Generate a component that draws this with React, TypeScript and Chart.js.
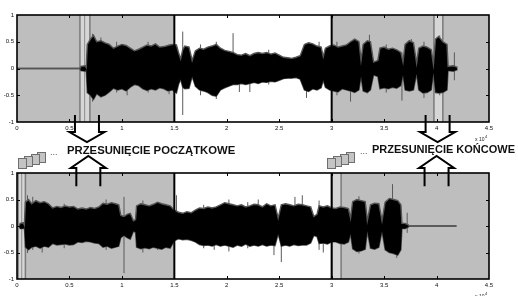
import React, { useEffect, useRef } from "react";
import { Chart, registerables } from "chart.js";
Chart.register(...registerables);

// ---- axis definition ----
const X_MIN = 0;
const X_MAX = 4.5;
const X_STEP = 0.5;
const Y_MIN = -1;
const Y_MAX = 1;
const Y_STEP = 0.5;

// ---- top waveform (original signal), x in units of 10^4 samples ----
const TOP_X = [0, 0.60, 0.61, 0.65, 0.66, 0.67, 0.70, 0.73, 0.76, 0.80,
  0.84, 0.88, 0.92, 0.96, 1.00, 1.04, 1.08, 1.12, 1.16, 1.20,
  1.24, 1.28, 1.32, 1.36, 1.40, 1.44, 1.48, 1.52, 1.54, 1.56,
  1.58, 1.60, 1.64, 1.67, 1.70, 1.74, 1.78, 1.82, 1.86, 1.90,
  1.94, 1.98, 2.02, 2.06, 2.10, 2.14, 2.18, 2.22, 2.26, 2.30,
  2.34, 2.38, 2.42, 2.46, 2.50, 2.54, 2.58, 2.62, 2.66, 2.70,
  2.74, 2.78, 2.82, 2.86, 2.90, 2.92, 2.94, 2.98, 3.02, 3.06,
  3.10, 3.14, 3.18, 3.22, 3.26, 3.28, 3.30, 3.34, 3.37, 3.40,
  3.44, 3.46, 3.50, 3.54, 3.58, 3.62, 3.66, 3.68, 3.70, 3.74,
  3.78, 3.81, 3.83, 3.87, 3.91, 3.95, 3.97, 3.99, 4.02, 4.06,
  4.10, 4.11, 4.16, 4.20];
const TOP_UPPER = [0, 0, 0.04, 0.05, 0.02, 0.45, 0.55, 0.62, 0.50, 0.52,
  0.48, 0.45, 0.38, 0.42, 0.45, 0.43, 0.38, 0.33, 0.36, 0.40,
  0.44, 0.42, 0.46, 0.40, 0.41, 0.43, 0.45, 0.44, 0.30, 0.18,
  0.35, 0.42, 0.40, 0.15, 0.33, 0.38, 0.36, 0.40, 0.42, 0.45,
  0.38, 0.34, 0.32, 0.30, 0.26, 0.25, 0.28, 0.24, 0.28, 0.30,
  0.28, 0.30, 0.27, 0.29, 0.25, 0.21, 0.20, 0.19, 0.21, 0.24,
  0.45, 0.48, 0.46, 0.42, 0.40, 0.22, 0.38, 0.42, 0.44, 0.40,
  0.42, 0.44, 0.50, 0.55, 0.50, 0.15, 0.45, 0.52, 0.50, 0.12,
  0.15, 0.38, 0.40, 0.36, 0.38, 0.35, 0.30, 0.12, 0.45, 0.52,
  0.48, 0.10, 0.38, 0.42, 0.40, 0.35, 0.08, 0.55, 0.60, 0.50,
  0.45, 0.04, 0.05, 0.02];
const TOP_LOWER = [0, 0, -0.04, -0.05, -0.02, -0.45, -0.50, -0.58, -0.47, -0.53,
  -0.50, -0.44, -0.37, -0.40, -0.38, -0.42, -0.35, -0.30, -0.32, -0.38,
  -0.41, -0.38, -0.40, -0.36, -0.38, -0.42, -0.40, -0.46, -0.30, -0.20,
  -0.35, -0.38, -0.37, -0.15, -0.33, -0.40, -0.42, -0.45, -0.50, -0.52,
  -0.40, -0.36, -0.33, -0.30, -0.30, -0.28, -0.30, -0.28, -0.26, -0.28,
  -0.25, -0.26, -0.24, -0.25, -0.22, -0.19, -0.18, -0.18, -0.17, -0.20,
  -0.40, -0.43, -0.38, -0.40, -0.36, -0.22, -0.35, -0.40, -0.42, -0.44,
  -0.38, -0.40, -0.42, -0.45, -0.40, -0.15, -0.42, -0.45, -0.40, -0.12,
  -0.15, -0.38, -0.36, -0.38, -0.35, -0.37, -0.32, -0.12, -0.40, -0.42,
  -0.40, -0.10, -0.40, -0.46, -0.45, -0.40, -0.08, -0.45, -0.46, -0.45,
  -0.40, -0.04, -0.05, -0.02];
const TOP_SPIKE_X = [0.72, 0.80, 0.95, 1.05, 1.25, 1.45, 1.58, 1.75, 1.90, 2.06, 2.12, 2.22, 2.40, 2.76, 2.88, 3.05, 3.18, 3.36, 3.52, 3.67, 3.76, 3.88, 4.03, 4.17];
const TOP_SPIKE_HI = [0.65, 0.58, 0.50, 0.40, 0.50, 0.45, 0.69, 0.45, 0.50, 0.66, 0.20, 0.20, 0.35, 0.40, 0.50, 0.50, 0.30, 0.63, 0.45, 0.30, 0.55, 0.50, 0.62, 0.30];
const TOP_SPIKE_LO = [-0.62, -0.40, -0.45, -0.50, -0.45, -0.48, -0.87, -0.50, -0.57, -0.28, -0.44, -0.44, -0.30, -0.55, -0.30, -0.50, -0.62, -0.30, -0.45, -0.60, -0.30, -0.55, -0.50, -0.22];

// ---- bottom waveform (shifted signal) ----
const BOT_X = [0.02, 0.03, 0.06, 0.07, 0.08, 0.11, 0.14, 0.18, 0.22, 0.26,
  0.30, 0.34, 0.38, 0.42, 0.46, 0.50, 0.54, 0.58, 0.62, 0.66,
  0.70, 0.74, 0.78, 0.82, 0.86, 0.90, 0.94, 0.97, 0.99, 1.02,
  1.05, 1.08, 1.11, 1.13, 1.14, 1.18, 1.22, 1.26, 1.30, 1.34,
  1.38, 1.42, 1.46, 1.50, 1.54, 1.58, 1.62, 1.66, 1.70, 1.74,
  1.78, 1.82, 1.86, 1.90, 1.94, 1.98, 2.02, 2.06, 2.10, 2.14,
  2.18, 2.22, 2.26, 2.30, 2.34, 2.38, 2.42, 2.46, 2.49, 2.52,
  2.56, 2.60, 2.64, 2.68, 2.72, 2.76, 2.80, 2.83, 2.86, 2.88,
  2.92, 2.96, 3.00, 3.04, 3.08, 3.12, 3.16, 3.18, 3.20, 3.24,
  3.28, 3.32, 3.34, 3.37, 3.41, 3.45, 3.48, 3.51, 3.55, 3.59,
  3.63, 3.66, 3.67, 3.70, 3.73, 3.74, 4.19];
const BOT_UPPER = [0, 0.05, 0.06, 0.02, 0.45, 0.50, 0.42, 0.48, 0.44, 0.46,
  0.42, 0.34, 0.37, 0.35, 0.38, 0.36, 0.37, 0.32, 0.34, 0.32,
  0.35, 0.33, 0.36, 0.43, 0.41, 0.44, 0.42, 0.40, 0.20, 0.18,
  0.22, 0.24, 0.10, 0.12, 0.38, 0.42, 0.40, 0.38, 0.41, 0.45,
  0.42, 0.40, 0.38, 0.30, 0.26, 0.24, 0.27, 0.25, 0.30, 0.34,
  0.33, 0.36, 0.34, 0.36, 0.40, 0.44, 0.42, 0.40, 0.38, 0.40,
  0.36, 0.38, 0.41, 0.40, 0.36, 0.42, 0.38, 0.40, 0.15, 0.40,
  0.42, 0.40, 0.38, 0.41, 0.40, 0.38, 0.36, 0.18, 0.22, 0.38,
  0.36, 0.38, 0.34, 0.33, 0.36, 0.35, 0.33, 0.15, 0.46, 0.50,
  0.48, 0.46, 0.10, 0.40, 0.43, 0.42, 0.10, 0.45, 0.52, 0.50,
  0.48, 0.40, 0.05, 0.05, 0.02, 0, 0];
const BOT_LOWER = [0, -0.05, -0.05, -0.02, -0.40, -0.45, -0.40, -0.38, -0.42, -0.38,
  -0.40, -0.33, -0.36, -0.35, -0.34, -0.36, -0.35, -0.30, -0.31, -0.29,
  -0.30, -0.32, -0.33, -0.40, -0.38, -0.42, -0.40, -0.38, -0.22, -0.18,
  -0.22, -0.25, -0.10, -0.12, -0.40, -0.43, -0.41, -0.43, -0.40, -0.42,
  -0.44, -0.40, -0.42, -0.28, -0.24, -0.26, -0.25, -0.27, -0.30, -0.35,
  -0.37, -0.36, -0.38, -0.35, -0.38, -0.36, -0.38, -0.40, -0.36, -0.38,
  -0.34, -0.38, -0.36, -0.38, -0.35, -0.38, -0.36, -0.37, -0.15, -0.38,
  -0.36, -0.38, -0.35, -0.37, -0.36, -0.36, -0.32, -0.18, -0.20, -0.33,
  -0.32, -0.34, -0.30, -0.30, -0.33, -0.34, -0.30, -0.15, -0.43, -0.48,
  -0.47, -0.44, -0.10, -0.42, -0.44, -0.40, -0.10, -0.45, -0.50, -0.52,
  -0.55, -0.45, -0.05, -0.05, -0.02, 0, 0];
const BOT_SPIKE_X = [0.10, 0.15, 0.24, 0.45, 0.85, 1.02, 1.20, 1.34, 1.52, 1.78, 1.88, 2.02, 2.20, 2.30, 2.45, 2.52, 2.65, 2.72, 2.88, 2.92, 3.26, 3.58, 3.62, 3.72];
const BOT_SPIKE_HI = [0.58, 0.55, 0.30, 0.42, 0.50, 0.55, 0.48, 0.45, 0.58, 0.40, 0.30, 0.50, 0.45, 0.50, 0.30, 0.30, 0.55, 0.58, 0.48, 0.30, 0.56, 0.79, 0.30, 0.25];
const BOT_SPIKE_LO = [-0.51, -0.45, -0.50, -0.42, -0.45, -0.89, -0.50, -0.45, -0.25, -0.42, -0.45, -0.48, -0.42, -0.30, -0.55, -0.68, -0.30, -0.30, -0.45, -0.50, -0.52, -0.30, -0.60, -0.13];

// ---- regions ----
const SHADED_SPANS = [[0, 1.5], [3, 4.5]];
const DIVIDERS = [1.5, 3];
const TOP_BANDS = [[0.60, 0.695, 0.645], [3.975, 4.06]];
const BOT_BANDS = [[0.01, 0.08, 0.045], [3.0, 3.09]];
const TOP_ARROWS = [0.667, 4.01];
const BOT_ARROWS = [0.68, 4.0];
const ICONS = [0.0095, 2.955];
const LABELS = ["PRZESUNIĘCIE POCZĄTKOWE", "PRZESUNIĘCIE KOŃCOWE"];

const FONT = '"Liberation Sans", Arial, Helvetica, sans-serif';

const fmtTick = (v: any) => String(parseFloat(Number(v).toFixed(2)));

function envelope(xs: number[], up: number[], lo: number[]) {
  return [
    {
      data: xs.map((x, i) => ({ x, y: up[i] })),
      borderColor: "#555",
      borderWidth: 1.4,
      backgroundColor: "#000",
      fill: "+1",
      pointRadius: 0,
      tension: 0,
    },
    {
      data: xs.map((x, i) => ({ x, y: lo[i] })),
      borderColor: "#555",
      borderWidth: 1.4,
      fill: false,
      pointRadius: 0,
      tension: 0,
    },
  ];
}

function spikes(xs: number[], hi: number[], lo: number[]) {
  const data: any[] = [];
  xs.forEach((x, i) => {
    data.push({ x, y: lo[i] }, { x, y: hi[i] }, { x, y: null });
  });
  return {
    data,
    borderColor: "#5a5a5a",
    borderWidth: 1,
    fill: false,
    pointRadius: 0,
    spanGaps: false,
  };
}

const decorPlugin = {
  id: "decor",
  beforeDatasetsDraw(chart: any, _a: any, o: any) {
    const { ctx, chartArea } = chart;
    const { top, bottom } = chartArea;
    const xs = chart.scales.x;
    ctx.save();
    ctx.fillStyle = "#bebebe";
    for (const [a, b] of o.spans) {
      const x0 = xs.getPixelForValue(a);
      const x1 = xs.getPixelForValue(b);
      ctx.fillRect(x0, top, x1 - x0, bottom - top);
    }
    for (const band of o.bands) {
      const x0 = xs.getPixelForValue(band[0]);
      const x1 = xs.getPixelForValue(band[1]);
      ctx.fillStyle = "#d6d6d6";
      ctx.fillRect(x0, top, x1 - x0, bottom - top);
      ctx.strokeStyle = "#7a7a7a";
      ctx.lineWidth = 1.5;
      ctx.beginPath();
      ctx.moveTo(x0, top); ctx.lineTo(x0, bottom);
      ctx.moveTo(x1, top); ctx.lineTo(x1, bottom);
      ctx.stroke();
      if (band.length > 2) {
        const xm = xs.getPixelForValue(band[2]);
        ctx.strokeStyle = "#8c8c8c";
        ctx.lineWidth = 1;
        ctx.beginPath();
        ctx.moveTo(xm, top); ctx.lineTo(xm, bottom);
        ctx.stroke();
      }
    }
    ctx.restore();
  },
  afterDatasetsDraw(chart: any, _a: any, o: any) {
    const { ctx, chartArea } = chart;
    const { left, right, top, bottom } = chartArea;
    const xs = chart.scales.x;
    const ys = chart.scales.y;
    ctx.save();
    ctx.strokeStyle = "#000";
    ctx.lineWidth = 2;
    ctx.beginPath();
    for (const d of DIVIDERS) {
      const x = xs.getPixelForValue(d);
      ctx.moveTo(x, top); ctx.lineTo(x, bottom);
    }
    ctx.stroke();
    ctx.lineWidth = 1;
    ctx.beginPath();
    for (const t of xs.ticks) {
      if (t.value <= X_MIN || t.value >= X_MAX) continue;
      const x = Math.round(xs.getPixelForValue(t.value)) + 0.5;
      ctx.moveTo(x, bottom); ctx.lineTo(x, bottom - 3);
      ctx.moveTo(x, top); ctx.lineTo(x, top + 3);
    }
    for (const t of ys.ticks) {
      if (t.value <= Y_MIN || t.value >= Y_MAX) continue;
      const y = Math.round(ys.getPixelForValue(t.value)) + 0.5;
      ctx.moveTo(left, y); ctx.lineTo(left + 3, y);
      ctx.moveTo(right, y); ctx.lineTo(right - 3, y);
    }
    ctx.stroke();
    ctx.lineWidth = 1.6;
    ctx.strokeRect(left, top, right - left, bottom - top);
    // exponent label
    ctx.fillStyle = "#222";
    ctx.font = `5px ${FONT}`;
    const ex = right - 14;
    const ey = bottom + 19;
    ctx.fillText("x 10", ex, ey);
    const w = ctx.measureText("x 10").width;
    ctx.font = `4px ${FONT}`;
    ctx.fillText("4", ex + w + 0.5, ey - 3);
    ctx.restore();
  },
  afterDraw(chart: any, _a: any, o: any) {
    const { ctx, chartArea } = chart;
    const { top, bottom } = chartArea;
    const xs = chart.scales.x;
    const ys = chart.scales.y;
    ctx.save();
    ctx.strokeStyle = "#000";
    ctx.lineWidth = 2;
    ctx.lineJoin = "miter";
    for (const c of o.arrows) {
      const cx = xs.getPixelForValue(c);
      const shaftEnd = ys.getPixelForValue(o.shaftValue);
      const baseY = o.dir === "down" ? bottom + 10 : top - 5;
      const apexY = o.dir === "down" ? bottom + 20 : top - 17;
      ctx.beginPath();
      ctx.moveTo(cx - 12, shaftEnd);
      ctx.lineTo(cx - 12, baseY);
      ctx.lineTo(cx - 17.5, baseY);
      ctx.lineTo(cx, apexY);
      ctx.lineTo(cx + 17.5, baseY);
      ctx.lineTo(cx + 12, baseY);
      ctx.lineTo(cx + 12, shaftEnd);
      ctx.stroke();
    }
    if (o.icons) {
      ctx.lineWidth = 1;
      for (const v of o.icons) {
        const ax = xs.getPixelForValue(v);
        for (let i = 3; i >= 0; i--) {
          const rx = Math.round(ax + 6.5 * i) + 0.5;
          const rb = top - 5 - 2 * i;
          ctx.fillStyle = "#c4c4c4";
          ctx.strokeStyle = "#6e6e6e";
          ctx.fillRect(rx, rb - 10, 8, 10);
          ctx.strokeRect(rx, rb - 10 + 0.5, 8, 10);
        }
      }
    }
    ctx.restore();
  },
};

function makeConfig(datasets: any[], decor: any, padding: any, xHeight: number) {
  return {
    type: "line" as const,
    data: { datasets },
    plugins: [decorPlugin],
    options: {
      animation: false,
      responsive: false,
      events: [],
      layout: { padding },
      plugins: {
        legend: { display: false },
        tooltip: { enabled: false },
        decor,
      },
      scales: {
        x: {
          type: "linear",
          min: X_MIN,
          max: X_MAX,
          grid: { display: false, drawTicks: false },
          border: { display: false },
          ticks: {
            stepSize: X_STEP,
            padding: 3,
            maxRotation: 0,
            autoSkip: false,
            color: "#111",
            font: { family: FONT, size: 6 },
            callback: fmtTick,
          },
          afterFit: (s: any) => { s.height = xHeight; },
        },
        y: {
          min: Y_MIN,
          max: Y_MAX,
          grid: { display: false, drawTicks: false },
          border: { display: false },
          ticks: {
            stepSize: Y_STEP,
            padding: 3,
            color: "#111",
            font: { family: FONT, size: 6 },
            callback: fmtTick,
          },
          afterFit: (s: any) => { s.width = 17; },
        },
      },
    },
  };
}

export default function App() {
  const topRef = useRef<HTMLCanvasElement>(null);
  const botRef = useRef<HTMLCanvasElement>(null);

  useEffect(() => {
    const top = new Chart(
      topRef.current as HTMLCanvasElement,
      makeConfig(
        [...envelope(TOP_X, TOP_UPPER, TOP_LOWER), spikes(TOP_SPIKE_X, TOP_SPIKE_HI, TOP_SPIKE_LO)],
        { spans: SHADED_SPANS, bands: TOP_BANDS, arrows: TOP_ARROWS, dir: "down", shaftValue: -0.87 },
        { left: 0, right: 29, top: 15, bottom: 14 },
        12
      ) as any
    );
    const bot = new Chart(
      botRef.current as HTMLCanvasElement,
      makeConfig(
        [...envelope(BOT_X, BOT_UPPER, BOT_LOWER), spikes(BOT_SPIKE_X, BOT_SPIKE_HI, BOT_SPIKE_LO)],
        { spans: SHADED_SPANS, bands: BOT_BANDS, arrows: BOT_ARROWS, dir: "up", shaftValue: 0.75, icons: ICONS },
        { left: 0, right: 29, top: 25, bottom: 5 },
        12
      ) as any
    );
    return () => {
      top.destroy();
      bot.destroy();
    };
  }, []);

  const labelStyle: React.CSSProperties = {
    position: "absolute",
    fontFamily: FONT,
    fontWeight: "bold",
    lineHeight: "11px",
    whiteSpace: "nowrap",
    color: "#111",
  };
  const dotsStyle: React.CSSProperties = {
    position: "absolute",
    fontFamily: FONT,
    fontSize: 9,
    lineHeight: "9px",
    color: "#555",
  };

  return (
    <div style={{ position: "fixed", left: 0, top: 0, width: 518, height: 296, background: "#fff", overflow: "hidden" }}>
      <canvas ref={topRef} width={518} height={148} style={{ position: "absolute", left: 0, top: 0 }} />
      <canvas ref={botRef} width={518} height={148} style={{ position: "absolute", left: 0, top: 148 }} />
      <div style={{ ...dotsStyle, left: 50, top: 148 }}>...</div>
      <div style={{ ...labelStyle, left: 67, top: 144.7, fontSize: 11.3 }}>{LABELS[0]}</div>
      <div style={{ ...dotsStyle, left: 360, top: 147 }}>...</div>
      <div style={{ ...labelStyle, left: 372, top: 143.7, fontSize: 11 }}>{LABELS[1]}</div>
    </div>
  );
}
